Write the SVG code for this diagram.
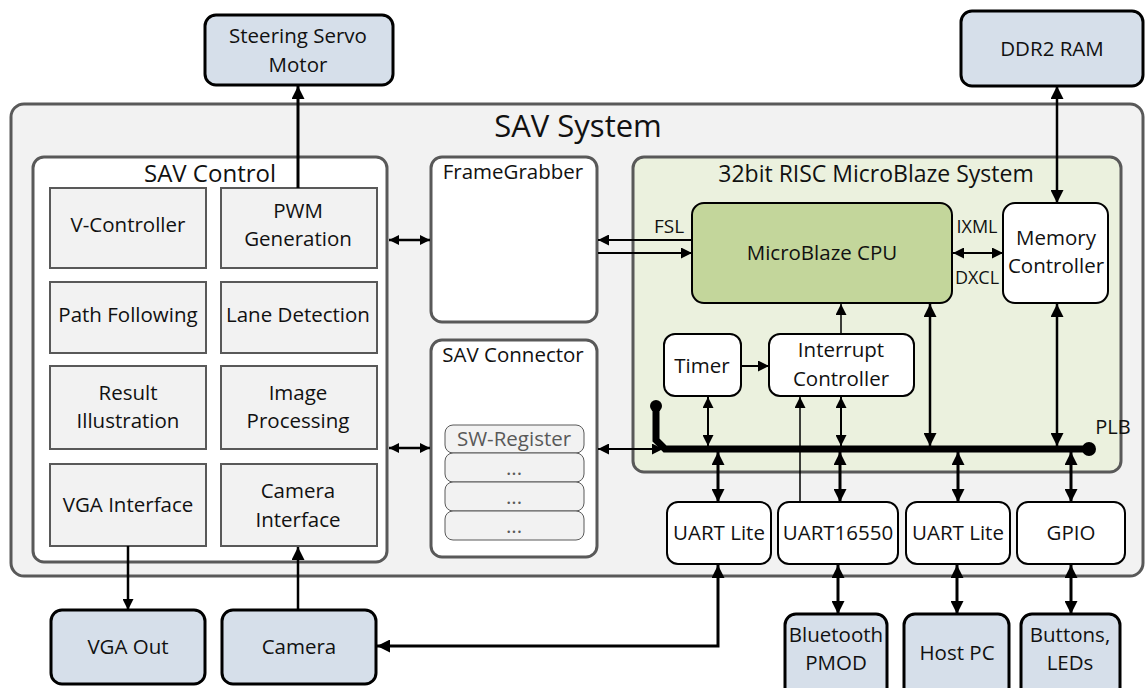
<svg xmlns="http://www.w3.org/2000/svg" width="1145" height="688" viewBox="0 0 1145 688">
<defs>
<style>
text{font-family:"Open Sans","Noto Sans","DejaVu Sans",sans-serif;fill:#111;text-anchor:middle}
.t{font-size:20.5px}
.cont{fill:#fff;stroke:#595959;stroke-width:3}
.inner{fill:#f2f2f2;stroke:#595959;stroke-width:2}
.ext{fill:#d6dfea;stroke:#000;stroke-width:3}
.wb{fill:#fff;stroke:#000;stroke-width:2}
.reg{fill:#f2f2f2;stroke:#595959;stroke-width:1}
.c{fill:none;stroke:#000}
</style>
<marker id="m" viewBox="0 0 10 10" refX="10" refY="5" markerWidth="14" markerHeight="11" orient="auto-start-reverse" markerUnits="userSpaceOnUse"><path d="M0,0 L10,5 L0,10 z"/></marker>
<marker id="mb" viewBox="0 0 10 10" refX="10" refY="5" markerWidth="18" markerHeight="13" orient="auto-start-reverse" markerUnits="userSpaceOnUse"><path d="M0,0 L10,5 L0,10 z"/></marker>
<marker id="ms" viewBox="0 0 10 10" refX="10" refY="5" markerWidth="13" markerHeight="10" orient="auto-start-reverse" markerUnits="userSpaceOnUse"><path d="M0,0 L10,5 L0,10 z"/></marker>
</defs>

<g id="sav-system">
<rect x="11" y="104" width="1132" height="472" rx="13" fill="#f2f2f2" stroke="#595959" stroke-width="3"/>
<text x="578" y="137" style="font-size:31px">SAV System</text>
</g>

<g id="steering-servo">
<rect class="ext" x="205" y="15" width="188" height="70" rx="11"/>
<text class="t" x="298" y="43">Steering Servo</text>
<text class="t" x="298" y="72">Motor</text>
</g>
<g id="ddr2">
<rect class="ext" x="961" y="11" width="182" height="75" rx="11"/>
<text class="t" x="1052" y="56">DDR2 RAM</text>
</g>

<g id="sav-control">
<rect class="cont" x="33" y="157" width="354" height="405" rx="11"/>
<text x="210" y="182" style="font-size:24px">SAV Control</text>
</g>
<g id="v-controller"><rect class="inner" x="50" y="188" width="156" height="80"/><text class="t" x="128" y="232">V-Controller</text></g>
<g id="pwm"><rect class="inner" x="221" y="188" width="156" height="80"/><text class="t" x="298" y="218">PWM</text><text class="t" x="298" y="246">Generation</text></g>
<g id="path-following"><rect class="inner" x="50" y="282" width="156" height="71"/><text class="t" x="128" y="322">Path Following</text></g>
<g id="lane-detection"><rect class="inner" x="221" y="282" width="156" height="71"/><text class="t" x="298" y="322">Lane Detection</text></g>
<g id="result-illustration"><rect class="inner" x="50" y="366" width="156" height="83"/><text class="t" x="128" y="400">Result</text><text class="t" x="128" y="428">Illustration</text></g>
<g id="image-processing"><rect class="inner" x="221" y="366" width="156" height="83"/><text class="t" x="298" y="400">Image</text><text class="t" x="298" y="428">Processing</text></g>
<g id="vga-interface"><rect class="inner" x="50" y="464" width="156" height="82"/><text class="t" x="128" y="512">VGA Interface</text></g>
<g id="camera-interface"><rect class="inner" x="221" y="464" width="156" height="82"/><text class="t" x="298" y="498">Camera</text><text class="t" x="298" y="527">Interface</text></g>

<g id="framegrabber">
<rect class="cont" x="431" y="157" width="166" height="165" rx="11"/>
<text class="t" x="513" y="179">FrameGrabber</text>
</g>
<g id="sav-connector">
<rect class="cont" x="431" y="340" width="166" height="217" rx="11"/>
<text class="t" x="513" y="362">SAV Connector</text>
<rect class="reg" x="445" y="425" width="139" height="28" rx="8"/>
<rect class="reg" x="445" y="453" width="139" height="29" rx="8"/>
<rect class="reg" x="445" y="482" width="139" height="29" rx="8"/>
<rect class="reg" x="445" y="511" width="139" height="29" rx="8"/>
<text class="t" x="514" y="446" style="fill:#595959">SW-Register</text>
<text class="t" x="514" y="475" style="fill:#595959">...</text>
<text class="t" x="514" y="504" style="fill:#595959">...</text>
<text class="t" x="514" y="533" style="fill:#595959">...</text>
</g>

<g id="microblaze-system">
<rect x="633" y="157" width="488" height="315" rx="11" fill="#ebf1de" stroke="#595959" stroke-width="3"/>
<text x="876" y="182" style="font-size:23px">32bit RISC MicroBlaze System</text>
</g>
<g id="cpu">
<rect x="692" y="203" width="260" height="100" rx="12" fill="#c3d69b" stroke="#000" stroke-width="2"/>
<text class="t" x="822" y="260">MicroBlaze CPU</text>
</g>
<g id="memory-controller">
<rect class="wb" x="1003" y="203" width="105" height="100" rx="12"/>
<text class="t" x="1056" y="245">Memory</text>
<text class="t" x="1056" y="273">Controller</text>
</g>
<g id="timer">
<rect class="wb" x="664" y="334" width="77" height="62" rx="11"/>
<text class="t" x="702" y="373">Timer</text>
</g>
<g id="interrupt-controller">
<rect class="wb" x="769" y="334" width="145" height="62" rx="11"/>
<text class="t" x="841" y="357">Interrupt</text>
<text class="t" x="841" y="386">Controller</text>
</g>

<g id="uart-lite-1"><rect class="wb" x="667" y="502" width="104" height="62" rx="11"/><text class="t" x="719" y="540">UART Lite</text></g>
<g id="uart16550"><rect class="wb" x="778" y="502" width="120" height="62" rx="11"/><text class="t" x="838" y="540">UART16550</text></g>
<g id="uart-lite-2"><rect class="wb" x="906" y="502" width="104" height="62" rx="11"/><text class="t" x="958" y="540">UART Lite</text></g>
<g id="gpio"><rect class="wb" x="1017" y="502" width="108" height="62" rx="11"/><text class="t" x="1071" y="540">GPIO</text></g>

<g id="vga-out"><rect class="ext" x="51" y="610" width="154" height="74" rx="11"/><text class="t" x="128" y="654">VGA Out</text></g>
<g id="camera"><rect class="ext" x="222" y="610" width="154" height="74" rx="11"/><text class="t" x="299" y="654">Camera</text></g>
<g id="bluetooth"><rect class="ext" x="785" y="614" width="102" height="90" rx="11"/><text class="t" x="836" y="642">Bluetooth</text><text class="t" x="836" y="670">PMOD</text></g>
<g id="host-pc"><rect class="ext" x="904" y="614" width="105" height="90" rx="11"/><text class="t" x="957" y="660">Host PC</text></g>
<g id="buttons"><rect class="ext" x="1021" y="614" width="99" height="90" rx="11"/><text class="t" x="1070" y="642">Buttons,</text><text class="t" x="1070" y="670">LEDs</text></g>

<g id="connectors">
<path class="c" d="M656,406 V440 L665,449 H1089" stroke-width="7"/>
<circle cx="656" cy="406" r="6"/>
<circle cx="1089" cy="449" r="7"/>
<text x="1113" y="434" style="font-size:20px">PLB</text>
<text x="669" y="233" style="font-size:19px">FSL</text>
<text x="977" y="233" style="font-size:18px">IXML</text>
<text x="977" y="284" style="font-size:18px">DXCL</text>

<path class="c" d="M298,188 V86" stroke-width="3" marker-end="url(#mb)"/>
<path class="c" d="M1057,86 V203" stroke-width="2.5" marker-start="url(#mb)" marker-end="url(#mb)"/>
<path class="c" d="M389,240 H430" stroke-width="2.5" marker-start="url(#ms)" marker-end="url(#ms)"/>
<path class="c" d="M389,448 H430" stroke-width="2.5" marker-start="url(#ms)" marker-end="url(#ms)"/>
<path class="c" d="M692,240 H598" stroke-width="2" marker-end="url(#m)"/>
<path class="c" d="M598,253 H692" stroke-width="2" marker-end="url(#m)"/>
<path class="c" d="M953,253 H1003" stroke-width="2" marker-start="url(#m)" marker-end="url(#m)"/>
<path class="c" d="M841,334 V304" stroke-width="1.5" marker-end="url(#m)"/>
<path class="c" d="M930,304 V446" stroke-width="2.5" marker-start="url(#mb)" marker-end="url(#mb)"/>
<path class="c" d="M1057,304 V446" stroke-width="2.5" marker-start="url(#mb)" marker-end="url(#mb)"/>
<path class="c" d="M741,366 H769" stroke-width="2" marker-end="url(#m)"/>
<path class="c" d="M708,397 V446" stroke-width="2" marker-start="url(#m)" marker-end="url(#m)"/>
<path class="c" d="M841,397 V446" stroke-width="2" marker-start="url(#m)" marker-end="url(#m)"/>
<path class="c" d="M598,449 H663" stroke-width="2" marker-start="url(#m)" marker-end="url(#m)"/>
<path class="c" d="M718,452 V502" stroke-width="3" marker-start="url(#mb)" marker-end="url(#mb)"/>
<path class="c" d="M840,452 V502" stroke-width="3" marker-start="url(#mb)" marker-end="url(#mb)"/>
<path class="c" d="M958,452 V502" stroke-width="3" marker-start="url(#mb)" marker-end="url(#mb)"/>
<path class="c" d="M1071,452 V502" stroke-width="3" marker-start="url(#mb)" marker-end="url(#mb)"/>
<path class="c" d="M800,502 V397" stroke-width="1.5" marker-end="url(#m)"/>
<path class="c" d="M718,565 V646 H377" stroke-width="3" marker-start="url(#mb)" marker-end="url(#mb)"/>
<path class="c" d="M128,546 V610" stroke-width="2.5" marker-end="url(#m)"/>
<path class="c" d="M298,610 V547" stroke-width="2.5" marker-end="url(#mb)"/>
<path class="c" d="M838,565 V614" stroke-width="3" marker-start="url(#mb)" marker-end="url(#mb)"/>
<path class="c" d="M957,565 V614" stroke-width="3" marker-start="url(#mb)" marker-end="url(#mb)"/>
<path class="c" d="M1071,565 V614" stroke-width="3" marker-start="url(#mb)" marker-end="url(#mb)"/>
</g>
</svg>
